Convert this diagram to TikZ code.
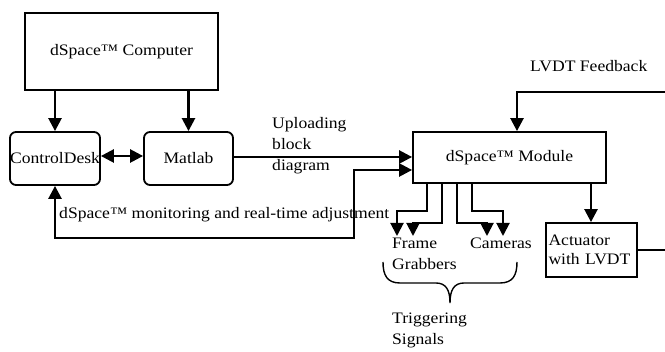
\documentclass[tikz,border=0pt]{standalone}
\usepackage{fontspec}
\setmainfont{Liberation Serif}[FakeStretch=1.1]
\usetikzlibrary{arrows.meta}
\begin{document}
\begin{tikzpicture}[x=1pt,y=-1pt,
  font=\fontsize{16}{19}\selectfont,
  box/.style={draw,line width=1.8pt,inner sep=0pt},
  rbox/.style={box,rounded corners=6pt},
  arr/.style={line width=2.5pt,-{Triangle[length=13pt,width=13pt]}},
  darr/.style={line width=2.5pt,{Triangle[length=13pt,width=13pt]}-{Triangle[length=13pt,width=13pt]}},
  lbl/.style={inner sep=0pt}]
\useasboundingbox (0,0) rectangle (665,352);
% boxes
\node[box,minimum width=193pt,minimum height=77pt] (comp) at (121.5,51.5) {dSpace™ Computer};
\node[rbox,minimum width=90pt,minimum height=53pt] (cd) at (55,158.5) {ControlDesk};
\node[rbox,minimum width=89pt,minimum height=53pt] (mat) at (188.5,158.5) {Matlab};
\node[box,minimum width=193pt,minimum height=51pt] (mod) at (509.5,157.5) {dSpace™ Module};
\node[box,minimum width=91pt,minimum height=54pt,align=left,text width=86pt,inner xsep=2.5pt] (act) at (591.5,250) {Actuator\\with LVDT};
% labels
\node[lbl,anchor=west,align=left,font=\fontsize{16}{21}\selectfont] (upl) at (272,146) {Uploading\\block\\diagram};
\node[lbl,anchor=west] (mon) at (59,215) {dSpace™ monitoring and real-time adjustment};
\node[lbl,anchor=west] (lvdt) at (530,66) {LVDT Feedback};
\node[lbl,anchor=north west,align=left,font=\fontsize{16}{21}\selectfont] (fg) at (392,238) {Frame\\Grabbers};
\node[lbl,anchor=north west] (cam) at (470,238) {Cameras};
\node[lbl,anchor=north west,align=left,font=\fontsize{16}{21}\selectfont] (trig) at (392,313) {Triggering\\Signals};
% coordinates
\coordinate (fb) at (665,92);
\coordinate (actout) at (665,250);
\coordinate (mon1) at (354,238);
\coordinate (t1) at (397,236);
\coordinate (t2) at (413,236);
\coordinate (t3) at (487,236);
\coordinate (t4) at (503,236);
% connectors
\draw[arr] (comp.south -| cd.north) -- (cd.north);
\draw[arr] (comp.south -| mat.north) -- (mat.north);
\draw[darr] (cd.east |- 0,156) -- (mat.west |- 0,156);
\draw[arr] (mat.east |- 0,157) -- (mod.west |- 0,157);
\draw[darr] (cd.south) |- (mon1) |- (mod.west |- 0,170);
\draw[arr] (fb) -| (mod.north -| 517,0);
\draw[arr] (mod.south -| 591,0) -- (act.north -| 591,0);
\draw[line width=2.5pt] (act.east) -- (actout);
\draw[arr,line width=2pt] (mod.south -| 427,0) |- (397,211) -- (t1);
\draw[arr,line width=2pt] (mod.south -| 442,0) |- (413,223) -- (t2);
\draw[arr,line width=2pt] (mod.south -| 457,0) |- (487,223) -- (t3);
\draw[arr,line width=2pt] (mod.south -| 472,0) |- (503,211) -- (t4);
% brace
\draw[line width=1.4pt] (383,262) .. controls (383,275) and (387,283) .. (400,283) -- (436,283) .. controls (446,283) and (450,290) .. (450,303) .. controls (450,290) and (454,283) .. (464,283) -- (500,283) .. controls (513,283) and (517,275) .. (517,262);
\end{tikzpicture}
\end{document}
